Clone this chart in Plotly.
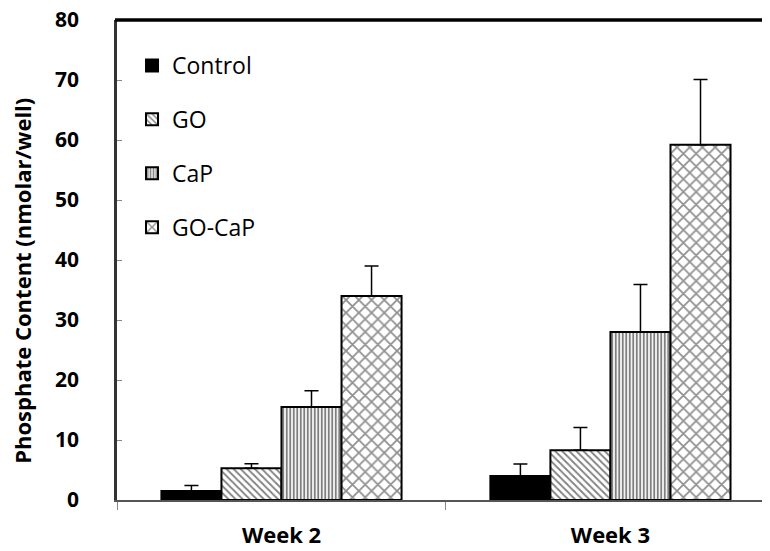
import plotly.graph_objects as go

categories = ["Week 2", "Week 3"]
series_names = ["Control", "GO", "CaP", "GO-CaP"]
values = {
    "Control": [1.5, 4.0],
    "GO": [5.3, 8.3],
    "CaP": [15.5, 28.0],
    "GO-CaP": [34.0, 59.2],
}
errors = {
    "Control": [0.9, 2.0],
    "GO": [0.75, 3.8],
    "CaP": [2.7, 7.9],
    "GO-CaP": [5.0, 10.9],
}
y_ticks = [0, 10, 20, 30, 40, 50, 60, 70, 80]

patterns = {
    "Control": dict(shape="", fgcolor="black", bgcolor="black"),
    "GO": dict(shape="\\", fgcolor="black", bgcolor="white", size=5, solidity=0.35),
    "CaP": dict(shape="|", fgcolor="black", bgcolor="white", size=3.5, solidity=0.55),
    "GO-CaP": dict(shape="x", fgcolor="#222222", bgcolor="white", size=9, solidity=0.35),
}

FONT = "Open Sans"

fig = go.Figure()
for i, name in enumerate(series_names):
    fig.add_trace(go.Bar(
        name=name,
        x=categories,
        y=values[name],
        legendgroup=name,
        marker=dict(color="black" if name == "Control" else "white",
                    line=dict(color="black", width=2),
                    pattern=patterns[name]),
        error_y=dict(type="data", symmetric=False, array=errors[name],
                     arrayminus=[0] * len(categories), color="black",
                     thickness=1.5, width=7),
    ))

# page body has an 8px default margin, so the figure is offset by 8px
fig.update_layout(
    width=762, height=543,
    margin=dict(l=109, r=0, t=12, b=51),
    paper_bgcolor="white", plot_bgcolor="white",
    barmode="group", bargap=0.27, bargroupgap=0,
    font=dict(family=FONT, color="black"),
    showlegend=True,
    legend=dict(x=0.023, y=0.95, xanchor="left", yanchor="top",
                font=dict(size=23, family=FONT, color="black"),
                tracegroupgap=21, bgcolor="rgba(0,0,0,0)"),
    xaxis=dict(type="category", range=[-0.5, 1.485], showline=True,
               linecolor="#555555", linewidth=2, ticks="outside",
               tickson="boundaries", ticklen=8, tickcolor="#888888",
               tickfont=dict(size=22, family=FONT, color="black", weight="bold"),
               ticklabelstandoff=15, showgrid=False, zeroline=False,
               automargin=False),
    yaxis=dict(range=[0, 80], tickvals=y_ticks, showline=True,
               linecolor="#333333", linewidth=2.5, ticks="inside",
               ticklen=5, tickcolor="#888888", showgrid=False, zeroline=False,
               tickfont=dict(size=21, family=FONT, color="black", weight="bold"),
               ticklabelstandoff=31, ticklabeloverflow="allow",
               automargin=False),
)

fig.add_shape(type="line", xref="paper", yref="paper", x0=-0.003, x1=1, y0=1, y1=1,
              line=dict(color="black", width=3.5))

fig.add_annotation(text="<b>Phosphate Content (nmolar/well)</b>", textangle=-90,
                   xref="paper", yref="paper", x=-0.146, y=0.456,
                   xanchor="center", yanchor="middle", showarrow=False,
                   font=dict(size=22, family=FONT, color="black"))

fig.write_html("out.html")
